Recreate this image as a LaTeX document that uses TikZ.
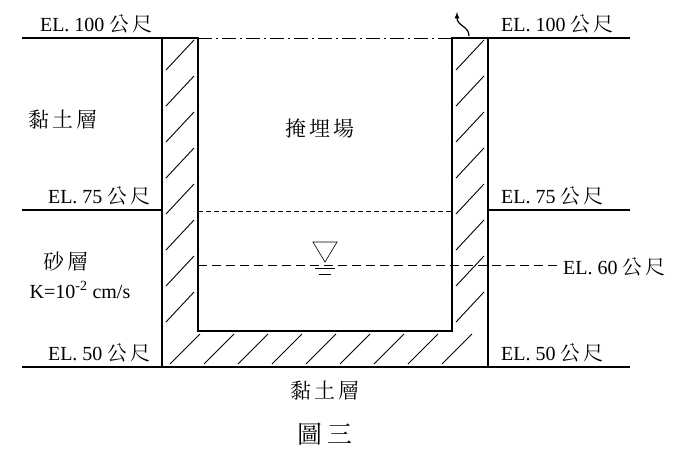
\documentclass[tikz,border=0pt]{standalone}
\usepackage{fontspec}
\setmainfont{Liberation Serif}
\newfontfamily\cjk{Noto Serif CJK TC}
\begin{document}
\begin{tikzpicture}[x=1pt,y=-1pt]
  % --- Styles ---
  \tikzset{
    wall/.style={line width=1.6pt},
    ground line/.style={line width=1.2pt},
    level/.style={font=\fontsize{20}{20}\selectfont, inner sep=1pt},
    zone/.style={font=\cjk\fontsize{21}{21}\selectfont, inner sep=1pt},
    hatch/.style={line width=0.9pt}
  }
  \useasboundingbox (0,0) rectangle (680,451);

  % --- Wall outline ---
  \coordinate (OL) at (162,38);
  \coordinate (IL) at (198,38);
  \coordinate (IR) at (452,38);
  \coordinate (OR) at (488,38);
  \draw[wall] (OL) -- (162,367) -- (488,367) -- (OR) -- (IR) -- (452,331) -- (198,331) -- (IL) -- cycle;

  % --- Hatching inside the wall ---
  \begin{scope}
    \clip (OL) -- (162,367) -- (488,367) -- (OR) -- (IR) -- (452,331) -- (198,331) -- (IL) -- cycle;
    \foreach \y in {70,106,...,340} {
      \draw[hatch] (166,\y) -- (194,\y-30);
      \draw[hatch] (456,\y) -- (484,\y-30);
    }
    \foreach \x in {170,204,...,470}
      \draw[hatch] (\x,364) -- (\x+30,334);
  \end{scope}

  % --- Ground and level lines ---
  \foreach \y in {38,210,367} {
    \draw[ground line] (22,\y) -- (OL |- 0,\y);
    \draw[ground line] (OR |- 0,\y) -- (630,\y);
  }
  \draw[thin, dash pattern=on 14pt off 4pt on 2pt off 4pt] (IL) -- (IR);
  \draw[thin, dash pattern=on 5pt off 3pt] (198,211) -- (452,211);
  \draw[semithick, dash pattern=on 9pt off 5pt] (198,265) -- (560,265);

  % --- Water table symbol ---
  \draw[semithick] (313,242) -- (337,242) -- (325,262) -- cycle;
  \draw[semithick] (315,268) -- (335,268);
  \draw[semithick] (319,274) -- (331,274);

  % --- Curved arrow ---
  \draw[very thick, -latex] (469,36) .. controls (469,26) and (457,26) .. (457,12);

  % --- Labels ---
  \node[level, above left] at (154,35) {EL. 100 {\cjk 公\,尺}};
  \node[level, above right] at (500,35) {EL. 100 {\cjk 公\,尺}};
  \node[level, above left] at (152,207) {EL. 75 {\cjk 公\,尺}};
  \node[level, above right] at (500,207) {EL. 75 {\cjk 公\,尺}};
  \node[level, above left] at (152,364) {EL. 50 {\cjk 公\,尺}};
  \node[level, above right] at (500,364) {EL. 50 {\cjk 公\,尺}};
  \node[level, right] at (562,267) {EL. 60 {\cjk 公\,尺}};
  \node[zone] at (63,120) {黏\,土\,層};
  \node[zone] at (320,128) {掩\,埋\,場};
  \node[zone] at (66,262) {砂\,層};
  \node[level] at (80,290) {K=10\textsuperscript{-2} cm/s};
  \node[zone] at (325,391) {黏\,土\,層};
  \node[zone, font=\cjk\fontsize{25}{25}\selectfont] at (325,434) {圖\,三};
\end{tikzpicture}
\end{document}
